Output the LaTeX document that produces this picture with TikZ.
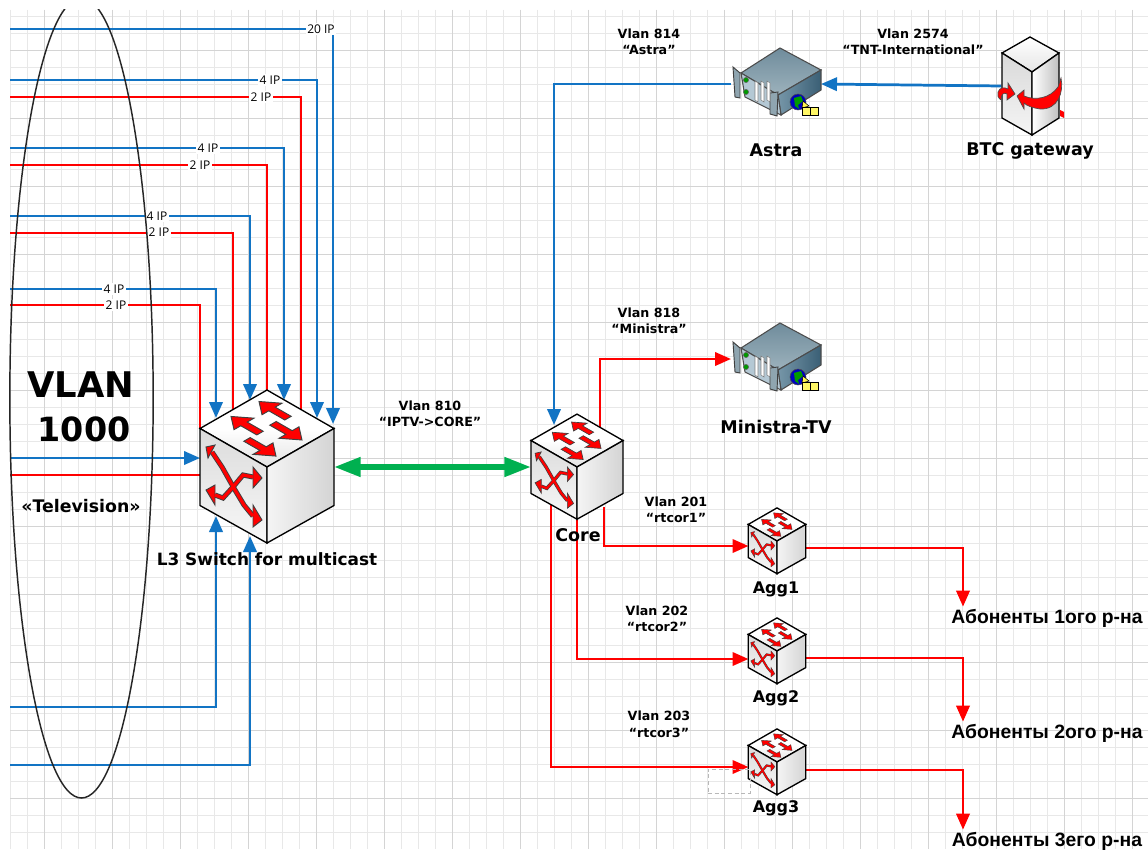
\documentclass[tikz,border=0pt]{standalone}
\usepackage{fontspec}
\setmainfont{DejaVu Sans}
\newfontfamily\ipfont{Open Sans}
\newfontfamily\subfont{Liberation Sans}
\usetikzlibrary{shapes.geometric, arrows.meta, calc}
\definecolor{vblue}{HTML}{1274C4}
\definecolor{vgreen}{HTML}{00B050}
\definecolor{srvtop}{HTML}{9DB2BC}
\definecolor{srvtopb}{HTML}{6F8C9C}
\definecolor{srvright}{HTML}{7696A8}
\definecolor{srvrightb}{HTML}{3A5F75}
\definecolor{srvfront}{HTML}{B4C8D4}
\definecolor{srvear}{HTML}{8FA5B0}
\tikzset{
  pics/netswitch/.style={code={
    \begin{scope}[scale=#1]
      \draw[line width=1pt, top color=white, bottom color=gray!22, middle color=white] (0,-77) -- (67,-38.5) -- (0,0) -- (-67,-38.5) -- cycle;
      \draw[line width=1pt, top color=gray!28, bottom color=gray!6] (-67,-38.5) -- (0,0) -- (0,76) -- (-67,38.5) -- cycle;
      \draw[line width=1pt, left color=gray!8, middle color=gray!48, right color=gray!34] (67,-38.5) -- (0,0) -- (0,76) -- (67,38.5) -- cycle;
      \begin{scope}[shift={(0,-77)}, x={(0.75pt,-0.431pt)}, y={(-0.75pt,-0.431pt)}]
        \foreach \uu/\vv/\dd in {35/14/-1, 34/41/-1, 32/26/1, 33/53/1}
          \draw[fill=red, draw=black!75, line width=#1*0.7pt]
            (\uu,\vv-3.2) -- ({\uu+16*\dd},\vv-3.2) -- ({\uu+16*\dd},\vv-10) -- ({\uu+29*\dd},\vv) -- ({\uu+16*\dd},\vv+10) -- ({\uu+16*\dd},\vv+3.2) -- (\uu,\vv+3.2) -- cycle;
      \end{scope}
      \draw[draw=black!75, line width=#1*3.8pt] (-55,-15) -- (-45,0) -- (-32,23) -- (-23,38) -- (-14,49);
      \draw[draw=black!75, line width=#1*3.8pt] (-52,28) -- (-44,31) -- (-34,20) -- (-24,8) -- (-14,10);
      \foreach \ax/\ay/\bx/\by/\tx/\ty in {-52/-22/-59/-9/-61/-20, -14/38/-14/60/-5/53, -52/18/-52/38/-61/23, -14/0/-14/21/-5/11}
        \draw[fill=red, draw=black!75, line width=#1*0.7pt] (\ax,\ay) -- (\bx,\by) -- (\tx,\ty) -- cycle;
      \draw[draw=red, line width=#1*2.4pt] (-55,-15) -- (-45,0) -- (-32,23) -- (-23,38) -- (-14,49);
      \draw[draw=red, line width=#1*2.4pt] (-52,28) -- (-44,31) -- (-34,20) -- (-24,8) -- (-14,10);
    \end{scope}
  }},
  pics/rackserver/.style={code={
    \draw[line width=.8pt, draw=black!70, top color=srvtopb, bottom color=srvtop] (4,-36) -- (45,-14) -- (2,11) -- (-35,-11) -- cycle;
    \draw[line width=.8pt, draw=black!70, left color=srvright, right color=srvrightb] (2,11) -- (45,-14) -- (45,6) -- (5,31) -- cycle;
    \draw[line width=.8pt, draw=black!70, fill=srvfront] (-35,-11) -- (2,11) -- (5,31) -- (-31,13) -- cycle;
    \draw[line width=.7pt, draw=black!75, fill=srvear] (-43,-17) -- (-36,-11) -- (-36,14) -- (-41,13) -- cycle;
    \draw[line width=.7pt, draw=black!75, fill=srvear] (-6,9) -- (2,8) -- (1,32) -- (-6,30) -- cycle;
    \foreach \sx in {-21,-15,-9}
      \draw[fill=white, draw=black!50, line width=.4pt] (\sx,-3) -- (\sx+3,-1) -- (\sx+3,18) -- (\sx,16) -- cycle;
    \foreach \ly in {-4,8}
      \draw[fill=green!60!black, draw=black!60, line width=.4pt] (-30,\ly) circle (2.6);
    \draw[fill=blue!75!black, draw=black!70, line width=.4pt] (22,18) circle (8);
    \fill[green!60!black] (18,14) -- (25,12) -- (27,17) -- (22,21) -- (23,25) -- (19,22) -- cycle;
    \draw[fill=yellow!70, draw=black, line width=.4pt] (27,17) -- (33,22) -- (26,24) -- cycle;
    \draw[fill=yellow!60, draw=black, line width=.7pt] (26,23) rectangle (42,31);
    \draw[draw=black, line width=.7pt] (34,23) -- (34,31);
  }},
  pics/gatewaybox/.style={code={
    \draw[line width=1pt, top color=white, bottom color=gray!20] (0,-49) -- (29,-33) -- (2,-14) -- (-28,-33) -- cycle;
    \draw[line width=1pt, top color=gray!30, bottom color=gray!8] (-28,-33) -- (2,-14) -- (2,49) -- (-28,32) -- cycle;
    \draw[line width=1pt, left color=white, right color=gray!50] (29,-33) -- (2,-14) -- (2,49) -- (29,32) -- cycle;
    \fill[red] (30,24) -- (34,26) -- (34,32) -- (30,30) -- cycle;
    \draw[fill=red, draw=black!70, line width=.5pt] (-13,10) -- (-6,4) -- (-6,10) .. controls (6,15) and (20,12) .. (28,1) -- (31,-8) .. controls (34,6) and (28,24) .. (10,23) .. controls (3,22) and (-3,20) .. (-6,17) -- (-6,23) -- cycle;
    \draw[fill=red, draw=black!70, line width=.5pt] (-32,6) .. controls (-30,1) and (-26,1) .. (-22,3) -- (-22,-3) -- (-15,8) -- (-23,14) -- (-23,8) .. controls (-26,6) and (-29,8) .. (-29,14) .. controls (-32,12) and (-33,9) .. (-32,6) -- cycle;
  }},
}
\begin{document}
\begin{tikzpicture}[
  x=0.75pt, y=-0.75pt,
  gridminor/.style={draw=black!9, line width=.6pt},
  gridmajor/.style={draw=black!17, line width=.7pt},
  dev/.style={inner sep=0pt, outer sep=0pt},
  l3box/.style={dev, minimum width=100.5pt, minimum height=115pt},
  corebox/.style={dev, minimum width=69pt, minimum height=79.5pt},
  aggbox/.style={dev, minimum width=42.75pt, minimum height=49.5pt},
  srvbox/.style={dev, minimum width=67.5pt, minimum height=52pt},
  gatebox/.style={dev, minimum width=43pt, minimum height=73pt},
  devlab/.style={font=\bfseries\fontsize{13.1}{15}\selectfont, inner sep=0pt},
  agglab/.style={font=\bfseries\fontsize{12}{14}\selectfont, inner sep=0pt},
  vlanlab/.style={font=\bfseries\fontsize{9.5}{12.4}\selectfont, align=center, inner sep=0pt},
  iplab/.style={font=\ipfont\fontsize{9}{11}\selectfont, fill=white, inner sep=1pt},
  ablab/.style={font=\subfont\bfseries\fontsize{14.5}{16}\selectfont, inner sep=0pt},
  bline/.style={draw=vblue, line width=2.05pt, -{Triangle[length=12pt, width=10pt]}},
  rline/.style={draw=red, line width=2pt, -{Triangle[length=12pt, width=10pt]}},
  rplain/.style={draw=red, line width=2.05pt},
  trunk/.style={draw=vgreen, line width=4.2pt, {Triangle[length=20pt, width=14pt]}-{Triangle[length=20pt, width=14pt]}}
]
\useasboundingbox (0,0) rectangle (1148,849);
\fill[white] (0,0) rectangle (1148,849);

\foreach \gx in {10.7,27.7,...,1148} \draw[gridminor] (\gx,10) -- (\gx,849);
\foreach \gy in {16.7,33.7,...,849} \draw[gridminor] (10,\gy) -- (1148,\gy);
\foreach \gx in {44.7,112.7,...,1148} \draw[gridmajor] (\gx,10) -- (\gx,849);
\foreach \gy in {50.7,118.7,...,849} \draw[gridmajor] (10,\gy) -- (1148,\gy);

\node[l3box] (l3) at (267,467) {};
\node[corebox] (core) at (577,467) {};
\node[aggbox] (agg1) at (777,541) {};
\node[aggbox] (agg2) at (777,651) {};
\node[aggbox] (agg3) at (777,762) {};
\node[srvbox] (astra) at (776,84) {};
\node[srvbox] (ministra) at (776,359) {};
\node[gatebox] (btc) at (1030,86) {};
\node[ablab] (ab1) at (1047,618) {Абоненты 1ого р-на};
\node[ablab] (ab2) at (1047,733) {Абоненты 2ого р-на};
\node[ablab] (ab3) at (1047,841) {Абоненты 3его р-на};

\coordinate (src20) at (10,29);
\coordinate (src4a) at (10,80);
\coordinate (src2a) at (10,97);
\coordinate (src4b) at (10,148);
\coordinate (src2b) at (10,165);
\coordinate (src4c) at (10,216);
\coordinate (src2c) at (10,233);
\coordinate (src4d) at (10,289);
\coordinate (src2d) at (10,305);
\coordinate (srcb) at (10,458);
\coordinate (srcr) at (10,475);
\coordinate (srcu) at (10,707);
\coordinate (srcv) at (10,765);

\draw[bline] (src20) -| ($(l3)+(66,-43)$);
\draw[bline] (src4a) -| ($(l3)+(50,-49)$);
\draw[rplain] (src2a) -| ($(l3)+(34,-57)$);
\draw[bline] (src4b) -| ($(l3)+(17,-67)$);
\draw[rplain] (src2b) -| ($(l3)+(0,-77)$);
\draw[bline] (src4c) -| ($(l3)+(-17,-67)$);
\draw[rplain] (src2c) -| ($(l3)+(-34,-57)$);
\draw[bline] (src4d) -| ($(l3)+(-51,-49)$);
\draw[rplain] (src2d) -| ($(l3)+(-67,-38)$);
\draw[bline] (srcb) -- ($(l3.west)+(0,-9)$);
\draw[rplain] (srcr) -- ($(l3.west)+(0,8)$);
\draw[bline] (srcu) -| ($(l3)+(-51,49)$);
\draw[bline] (srcv) -| ($(l3)+(-17,69)$);

\node[iplab] (ip20) at (321,29) {20 IP};
\node[iplab] (ip4a) at (270,80) {4 IP};
\node[iplab] (ip2a) at (261,97) {2 IP};
\node[iplab] (ip4b) at (208,148) {4 IP};
\node[iplab] (ip2b) at (200,165) {2 IP};
\node[iplab] (ip4c) at (157,216) {4 IP};
\node[iplab] (ip2c) at (159,232) {2 IP};
\node[iplab] (ip4d) at (114,289) {4 IP};
\node[iplab] (ip2d) at (116,305) {2 IP};

\begin{scope}
  \clip (0,10) rectangle (1148,849);
  \node[ellipse, draw=black!85, line width=1.1pt, minimum width=107.5pt, minimum height=600pt, inner sep=0pt] (vlan) at (81.5,398) {};
\end{scope}

\draw[trunk] (l3.east) -- (core.west);
\draw[bline] (btc.west) -- (astra.east);
\draw[bline] (astra.west) -| ($(core)+(-23,-42)$);
\draw[rline] ($(core)+(23,-35)$) |- (ministra.west);
\draw[rline] ($(core)+(27,40)$) |- ($(agg1.west)+(0,5)$);
\draw[rline] ($(core)+(0,53)$) |- ($(agg2.west)+(0,8)$);
\draw[rline] ($(core)+(-26,38)$) |- ($(agg3.west)+(0,5)$);
\draw[rline] ($(agg1.east)+(0,7)$) -| ($(ab1.north)+(-84,-2)$);
\draw[rline] ($(agg2.east)+(0,7)$) -| ($(ab2.north)+(-84,-2)$);
\draw[rline] ($(agg3.east)+(0,8)$) -| ($(ab3.north)+(-84,-2)$);

\pic at (l3) {netswitch=1};
\pic at (core) {netswitch=0.687};
\pic at (agg1) {netswitch=0.43};
\pic at (agg2) {netswitch=0.43};
\pic at (agg3) {netswitch=0.43};
\pic at (astra) {rackserver};
\pic at (ministra) {rackserver};
\pic at (btc) {gatewaybox};

\node[draw=black!28, densely dashed, line width=.5pt, minimum width=31.5pt, minimum height=18pt, inner sep=0pt] (spare) at (729,781) {};

\node[devlab] (lbastra) at (776,150) {Astra};
\node[devlab] (lbbtc) at (1030,151) {BTC gateway};
\node[devlab] (lbmin) at (776,427) {Ministra-TV};
\node[devlab, font=\bfseries\fontsize{12.7}{15}\selectfont] (lbl3) at (267,559) {L3 Switch for multicast};
\node[devlab] (lbcore) at (578,535) {Core};
\node[agglab] (lbagg1) at (776,589) {Agg1};
\node[agglab] (lbagg2) at (776,698) {Agg2};
\node[agglab] (lbagg3) at (776,808) {Agg3};

\node[vlanlab] (v814) at (649,42) {Vlan 814\\“Astra”};
\node[vlanlab] (v2574) at (913,42) {Vlan 2574\\“TNT-International”};
\node[vlanlab] (v818) at (649,321) {Vlan 818\\“Ministra”};
\node[vlanlab] (v810) at (430,414) {Vlan 810\\“IPTV->CORE”};
\node[vlanlab] (v201) at (676,510) {Vlan 201\\“rtcor1”};
\node[vlanlab] (v202) at (657,619) {Vlan 202\\“rtcor2”};
\node[vlanlab] (v203) at (659,724) {Vlan 203\\“rtcor3”};

\node[font=\bfseries\fontsize{26.5}{30}\selectfont, inner sep=0pt] (lbvlan) at (81,385) {VLAN};
\node[font=\bfseries\fontsize{25}{30}\selectfont, inner sep=0pt] (lb1000) at (84,429) {1000};
\node[font=\bfseries\fontsize{13}{15}\selectfont, inner sep=0pt] (lbtv) at (81,506) {«Television»};

\end{tikzpicture}
\end{document}
